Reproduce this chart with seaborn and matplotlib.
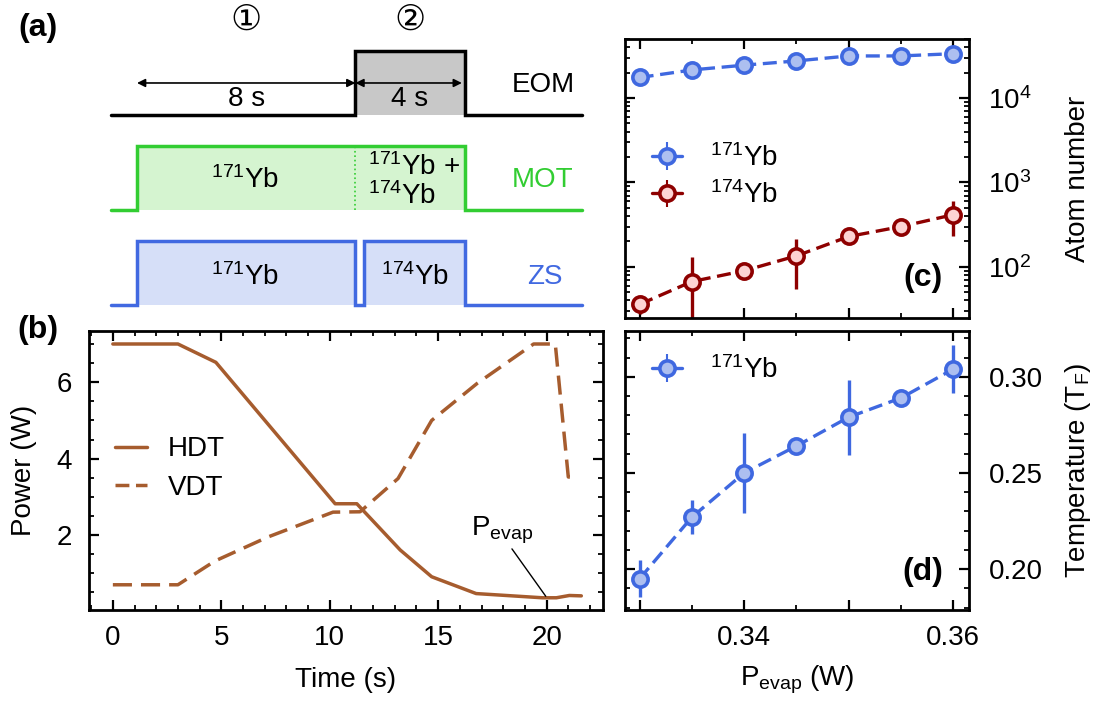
import numpy as np
import pandas as pd
import matplotlib
matplotlib.use("Agg")
import matplotlib.pyplot as plt
from matplotlib.ticker import (MultipleLocator, FixedLocator, FixedFormatter,
                               NullFormatter, LogLocator)
from matplotlib.legend_handler import HandlerErrorbar
from matplotlib.lines import Line2D
import seaborn as sns

# ---------------- data ----------------
# (a) sequence timing (s); 1 = channel on
eom_t = [-0.95, 8.0, 8.0, 12.0, 12.0, 16.3]
eom_on = [0, 0, 1, 1, 0, 0]
mot_t = [-0.95, 0.0, 0.0, 12.0, 12.0, 16.3]
mot_on = [0, 0, 1, 1, 0, 0]
zs_t = [-0.95, 0.0, 0.0, 8.0, 8.0, 8.32, 8.32, 12.0, 12.0, 16.3]
zs_on = [0, 0, 1, 1, 0, 0, 1, 1, 0, 0]
load_durations = [8, 4]

# (b) dipole-trap power ramps
hdt_t = [0, 3.0, 4.75, 10.25, 11.25, 13.25, 14.7, 16.75, 19.8, 20.45, 21.05, 21.6]
hdt_p = [7.0, 7.0, 6.52, 2.82, 2.82, 1.61, 0.91, 0.47, 0.36, 0.36, 0.42, 0.41]
vdt_t = [0, 3.0, 4.7, 7.15, 10.15, 11.4, 13.15, 14.7, 16.8, 19.4, 20.4, 21.0, 21.35]
vdt_p = [0.70, 0.70, 1.32, 1.95, 2.60, 2.61, 3.48, 5.0, 5.97, 7.0, 7.0, 3.52, 3.52]
p_evap_mark = (19.96, 0.40)

# (c), (d) vs final evaporation power
p_evap = [0.330, 0.335, 0.340, 0.345, 0.350, 0.355, 0.360]
n171 = [17500, 21500, 24500, 27500, 31500, 31500, 33500]
n171_err = [1200, 1200, 1200, 1200, 1200, 1200, 1200]
n174 = [36, 67, 90, 135, 229, 300, 415]
n174_err = [8, 63, 10, 80, 25, 15, 185]
t171 = [0.195, 0.227, 0.250, 0.264, 0.279, 0.289, 0.304]
t171_err = [0.0095, 0.0088, 0.021, 0.003, 0.0195, 0.003, 0.0125]

# ---------------- style ----------------
sns.set_theme(style="ticks")
plt.rcParams["font.family"] = ["Liberation Sans", "DejaVu Sans"]
plt.rcParams["mathtext.fontset"] = "custom"
plt.rcParams["mathtext.rm"] = "Liberation Sans"
plt.rcParams["mathtext.it"] = "Liberation Sans:italic"
plt.rcParams["mathtext.bf"] = "Liberation Sans:bold"
plt.rcParams["axes.linewidth"] = 2.0
plt.rcParams["axes.edgecolor"] = "black"
for key in ["text.color", "axes.labelcolor", "xtick.color", "ytick.color"]:
    plt.rcParams[key] = "black"

FS = 20
BROWN = "#a65c2e"
BLUE = "#3f68e0"
BLUE_FILL = "#adbff0"
RED = "#8e0000"
RED_FILL = "#fdd3d3"
GREEN = "#32cd32"
GREEN_FILL = "#d5f4d0"
ZS_BLUE = "#4169e1"
ZS_FILL = "#d6dff8"
GRAY_FILL = "#c8c8c8"

W, H = 1098, 702
fig = plt.figure(figsize=(W / 100, H / 100), dpi=100)


def px_axes(left, top, right, bottom):
    return [left / W, (H - bottom) / H, (right - left) / W, (bottom - top) / H]


def style_ticks(ax):
    ax.tick_params(which="both", direction="in", top=True, right=True,
                   labelsize=FS, colors="black")
    ax.tick_params(which="major", length=7, width=1.6)
    ax.tick_params(which="minor", length=3.5, width=1.3)
    for s in ax.spines.values():
        s.set_linewidth(2.0)
        s.set_color("black")


# ---------------- (a) sequence ----------------
axA = fig.add_axes([0, (H - 320) / H, 600 / W, 320 / H])
px_per_s = 27.3
axA.set_xlim(-137 / px_per_s, 463 / px_per_s)
axA.set_ylim(-15 / 95, 305 / 95)
axA.axis("off")

HIGH = 0.67
channels = [
    (eom_t, eom_on, 2.0, "black", GRAY_FILL),
    (mot_t, mot_on, 1.0, GREEN, GREEN_FILL),
    (zs_t, zs_on, 0.0, ZS_BLUE, ZS_FILL),
]
for t, on, base, lc, fc in channels:
    y = base + HIGH * np.asarray(on, dtype=float)
    axA.fill_between(t, base, y, color=fc, lw=0, zorder=1)
    axA.plot(t, y, color=lc, lw=2.5, solid_joinstyle="miter", zorder=3)

# dotted divider inside the MOT pulse
axA.plot([8.0, 8.0], [1.0, 1.0 + HIGH], color=GREEN, lw=1.2, ls=":", zorder=2)

# duration arrows
t_edges = np.cumsum([0] + load_durations)
arrow_y = 2.337
for (a, b), dur in zip(zip(t_edges[:-1], t_edges[1:]), load_durations):
    end = b - 0.1 if b == t_edges[-1] else b
    axA.annotate("", xy=(a, arrow_y), xytext=(end, arrow_y),
                 arrowprops=dict(arrowstyle="<|-|>", color="black", lw=1.2,
                                 mutation_scale=12, shrinkA=0, shrinkB=0))
    axA.text((a + b) / 2, 2.17, f"{dur} s", ha="center", va="center", fontsize=FS)

circ_fam = ["DejaVu Sans", "Noto Sans CJK JP"]
axA.text(4.0, 3.0, "\u2460", ha="center", va="center", fontsize=25, family=circ_fam)
axA.text(10.0, 3.0, "\u2461", ha="center", va="center", fontsize=25, family=circ_fam)

axA.text(14.87, 2.316, "EOM", ha="center", va="center", fontsize=FS, color="black")
axA.text(14.87, 1.316, "MOT", ha="center", va="center", fontsize=FS, color=GREEN)
axA.text(14.95, 0.295, "ZS", ha="center", va="center", fontsize=FS, color=ZS_BLUE)

axA.text(3.96, 1.316, "$^{171}$Yb", ha="center", va="center", fontsize=FS)
axA.text(8.46, 1.455, "$^{171}$Yb +", ha="left", va="center", fontsize=FS)
axA.text(8.46, 1.150, "$^{174}$Yb", ha="left", va="center", fontsize=FS)
axA.text(3.96, 0.295, "$^{171}$Yb", ha="center", va="center", fontsize=FS)
axA.text(10.18, 0.295, "$^{174}$Yb", ha="center", va="center", fontsize=FS)

# ---------------- (b) power ramps ----------------
axB = fig.add_axes(px_axes(89, 331, 603, 610))
LW_B = 2.5
ramps = pd.DataFrame({
    "Time (s)": hdt_t + vdt_t,
    "Power (W)": hdt_p + vdt_p,
    "beam": ["HDT"] * len(hdt_t) + ["VDT"] * len(vdt_t),
})
sns.lineplot(data=ramps, x="Time (s)", y="Power (W)", hue="beam", style="beam",
             palette={"HDT": BROWN, "VDT": BROWN},
             dashes={"HDT": "", "VDT": (5.5, 2.6)},
             sort=False, estimator=None, lw=LW_B, legend=False, ax=axB)
axB.set_xlim(-1.1, 22.6)
axB.set_ylim(0.04, 7.34)
axB.xaxis.set_major_locator(MultipleLocator(5))
axB.xaxis.set_minor_locator(MultipleLocator(1))
axB.yaxis.set_major_locator(FixedLocator([2, 4, 6]))
axB.yaxis.set_minor_locator(MultipleLocator(0.5))
style_ticks(axB)
axB.tick_params(axis="x", pad=11)
axB.tick_params(axis="y", pad=12)
axB.set_xlabel("Time (s)", fontsize=FS)
axB.set_ylabel("Power (W)", fontsize=FS)
axB.xaxis.set_label_coords(0.5, -0.251)
axB.xaxis.label.set_va("center")
axB.yaxis.set_label_coords(-0.126, 0.5)
axB.yaxis.label.set_va("center")
hdt_key = Line2D([], [], color=BROWN, lw=LW_B)
vdt_key = Line2D([], [], color=BROWN, lw=LW_B, dashes=(4.0, 1.9))
axB.legend([hdt_key, vdt_key], ["HDT", "VDT"], loc="center left",
           bbox_to_anchor=(0.0506, 0.507), frameon=False, fontsize=FS,
           handlelength=1.15, handletextpad=0.75, labelspacing=0.45,
           borderaxespad=0, borderpad=0)
axB.annotate("P$_{\\mathrm{evap}}$", xy=p_evap_mark, xytext=(17.95, 2.0),
             ha="center", va="baseline", fontsize=FS,
             arrowprops=dict(arrowstyle="-", color="black", lw=1.0,
                             shrinkA=0, shrinkB=0, relpos=(0.62, 0.0)))


def solid_handle(legend_handle, orig_handle):
    legend_handle.update_from(orig_handle)
    legend_handle.set_linestyle("-")


def style_evap_axis(ax):
    ax.set_xlim(0.3286, 0.3615)
    ax.xaxis.set_major_locator(FixedLocator([0.33, 0.34, 0.35, 0.36]))
    ax.xaxis.set_major_formatter(FixedFormatter(["", "0.34", "", "0.36"]))
    ax.xaxis.set_minor_locator(MultipleLocator(0.005))
    style_ticks(ax)
    ax.tick_params(axis="y", which="both", labelleft=False, labelright=True, pad=14)
    ax.tick_params(axis="x", pad=11)
    ax.yaxis.set_label_position("right")


eb_kw = dict(fmt="o", ls=(0, (4.2, 2.0)), lw=2.4, ms=11, mew=2.6, elinewidth=2.4,
             capsize=0)

# ---------------- (c) atom numbers ----------------
axC = fig.add_axes(px_axes(625, 39, 969, 318))
e1 = axC.errorbar(p_evap, n171, yerr=n171_err, color=BLUE, mfc=BLUE_FILL, mec=BLUE,
                  label="$^{171}$Yb", **eb_kw)
e2 = axC.errorbar(p_evap, n174, yerr=n174_err, color=RED, mfc=RED_FILL, mec=RED,
                  label="$^{174}$Yb", **eb_kw)
axC.set_yscale("log")
axC.set_ylim(24.8, 50000)
style_evap_axis(axC)
axC.yaxis.set_major_locator(FixedLocator([1e2, 1e3, 1e4]))
axC.yaxis.set_major_formatter(FixedFormatter(["$10^{2}$", "$10^{3}$", "$10^{4}$"]))
axC.yaxis.set_minor_locator(LogLocator(base=10, subs=np.arange(2, 10) * 1.0, numticks=20))
axC.yaxis.set_minor_formatter(NullFormatter())
axC.tick_params(axis="x", labelbottom=False)
axC.set_ylabel("Atom number", fontsize=FS)
axC.yaxis.set_label_coords(1.317, 0.5)
axC.yaxis.label.set_va("center")
axC.legend(handles=[e1, e2], loc="center left", bbox_to_anchor=(0.078, 0.507),
           frameon=False, fontsize=FS, handlelength=1.1, handletextpad=1.0,
           labelspacing=0.35, borderaxespad=0, borderpad=0,
           handler_map={type(e1): HandlerErrorbar(update_func=solid_handle)})
axC.text(0.866, 0.143, "(c)", transform=axC.transAxes, ha="center", va="center",
         fontsize=23, fontweight="bold")

# ---------------- (d) temperature ----------------
axD = fig.add_axes(px_axes(625, 331, 969, 610))
e3 = axD.errorbar(p_evap, t171, yerr=t171_err, color=BLUE, mfc=BLUE_FILL, mec=BLUE,
                  label="$^{171}$Yb", **eb_kw)
axD.set_ylim(0.1787, 0.3238)
style_evap_axis(axD)
axD.yaxis.set_major_locator(FixedLocator([0.20, 0.25, 0.30]))
axD.yaxis.set_major_formatter(FixedFormatter(["0.20", "0.25", "0.30"]))
axD.yaxis.set_minor_locator(MultipleLocator(0.01))
axD.set_ylabel("Temperature (T$_{\\mathrm{F}}$)", fontsize=FS)
axD.yaxis.set_label_coords(1.317, 0.5)
axD.yaxis.label.set_va("center")
axD.set_xlabel("P$_{\\mathrm{evap}}$ (W)", fontsize=FS)
axD.xaxis.set_label_coords(0.5, -0.251)
axD.xaxis.label.set_va("center")
axD.legend(handles=[e3], loc="center left", bbox_to_anchor=(0.078, 0.86),
           frameon=False, fontsize=FS, handlelength=1.1, handletextpad=1.0,
           borderaxespad=0, borderpad=0,
           handler_map={type(e3): HandlerErrorbar(update_func=solid_handle)})
axD.text(0.866, 0.136, "(d)", transform=axD.transAxes, ha="center", va="center",
         fontsize=23, fontweight="bold")

# panel letters
fig.text(38 / W, 1 - 28 / H, "(a)", ha="center", va="center", fontsize=23, fontweight="bold")
fig.text(38 / W, 1 - 330 / H, "(b)", ha="center", va="center", fontsize=23, fontweight="bold")

fig.savefig("out.png", dpi=100)
